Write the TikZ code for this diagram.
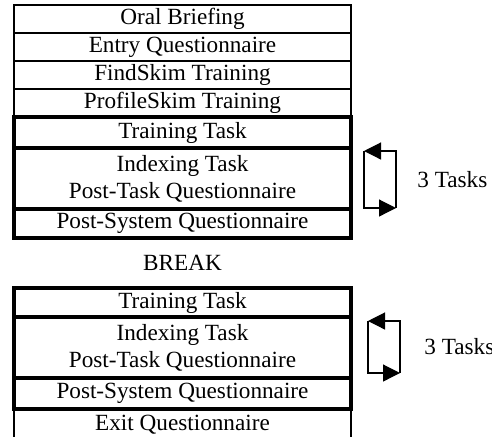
\documentclass[tikz,border=0pt]{standalone}
\usepackage{fontspec}
\setmainfont{Liberation Serif}
\usetikzlibrary{positioning,arrows.meta}
\begin{document}
\begin{tikzpicture}[x=0.5pt,y=-0.5pt,node distance=0pt,box/.style={draw,line width=0.9pt,outer sep=0pt,inner ysep=1pt,minimum width=168.5pt,minimum height=14pt,align=center,font=\fontsize{11.6}{13.5}\selectfont},tbox/.style={box,line width=2pt},lp/.style={line width=0.6pt,-{Triangle[length=8.5pt,width=8.5pt]}},lbl/.style={inner sep=0pt,font=\fontsize{11.6}{13.5}\selectfont}]
\useasboundingbox (0,0) rectangle (492,436);
% first session
\node[box](oral) at (182.5,19){Oral Briefing};
\node[box,below=of oral](entry){Entry Questionnaire};
\node[box,below=of entry](find){FindSkim Training};
\node[box,below=of find](profile){ProfileSkim Training};
\node[tbox,below=of profile,minimum height=15.5pt](train1){Training Task};
\node[tbox,below=of train1,minimum height=30.5pt](index1){Indexing Task\\Post-Task Questionnaire};
\node[tbox,below=of index1,minimum height=14.5pt](post1){Post-System Questionnaire};
% second session
\node[tbox,below=25pt of post1,minimum height=14.5pt](train2){Training Task};
\node[tbox,below=of train2,minimum height=30.5pt](index2){Indexing Task\\Post-Task Questionnaire};
\node[tbox,below=of index2,minimum height=15.5pt](post2){Post-System Questionnaire};
\node[box,below=of post2,minimum height=16pt](exit){Exit Questionnaire};
\path (post1.south) -- node[lbl](brk){BREAK} (train2.north);
% task loops
\coordinate (l1t) at ([xshift=6.5pt,yshift=-1.5pt]index1.north east);
\coordinate (r1t) at ([xshift=22.5pt,yshift=-1.5pt]index1.north east);
\coordinate (l1b) at ([xshift=6.5pt,yshift=0.5pt]index1.south east);
\coordinate (r1b) at ([xshift=22.5pt,yshift=0.5pt]index1.south east);
\draw[lp](r1b)--(r1t)--(l1t);\draw[lp](l1t)--(l1b)--(r1b);
\path (r1t)--coordinate[midway](r1m)(r1b);
\node[lbl,right=10.5pt of r1m](tasks1){3 Tasks};
\coordinate (l2t) at ([xshift=8.5pt,yshift=-2pt]index2.north east);
\coordinate (r2t) at ([xshift=24.5pt,yshift=-2pt]index2.north east);
\coordinate (l2b) at ([xshift=8.5pt,yshift=2.5pt]index2.south east);
\coordinate (r2b) at ([xshift=24.5pt,yshift=2.5pt]index2.south east);
\draw[lp](r2b)--(r2t)--(l2t);\draw[lp](l2t)--(l2b)--(r2b);
\path (r2t)--coordinate[midway](r2m)(r2b);
\node[lbl,right=12pt of r2m](tasks2){3 Tasks};
\end{tikzpicture}
\end{document}
